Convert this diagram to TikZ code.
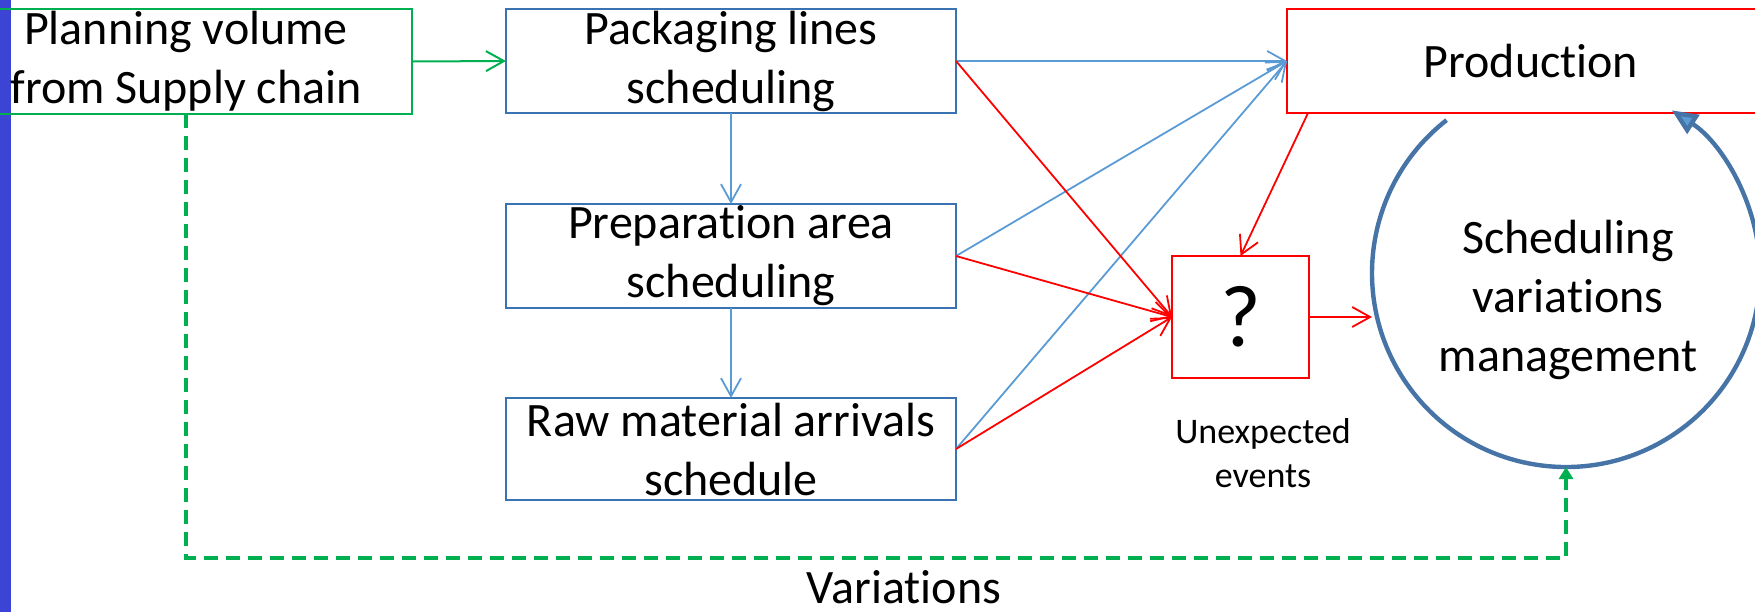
\documentclass[tikz,border=0pt]{standalone}
\usepackage{fontspec}
\setmainfont{Carlito}[Ligatures={NoCommon}]
\usetikzlibrary{arrows.meta}
\definecolor{grn}{HTML}{00B050}
\definecolor{boxblue}{HTML}{3A73B2}
\definecolor{arrblue}{HTML}{5B9BD5}
\definecolor{cblue}{HTML}{4674A6}
\definecolor{redc}{HTML}{FF0000}
\definecolor{barblue}{HTML}{3B44D4}
\begin{document}
\begin{tikzpicture}[x=0.5pt,y=-0.5pt,
  txt/.style={font=\fontsize{24}{29.5}\selectfont, align=center, text=black},
  box/.style={draw, line width=1pt, inner sep=0pt, outer sep=0pt, txt},
  bbox/.style={box, draw=boxblue, minimum width=225pt, minimum height=52pt},
  barb/.style={-{Straight Barb[length=9pt,width=10pt]}},
  barrow/.style={barb, draw=arrblue, line width=0.9pt},
  rarrow/.style={barb, draw=redc, line width=0.9pt},
]
\useasboundingbox (0,0) rectangle (1755,612);
\fill[barblue] (0,0) rectangle (11,612);
\node[box, draw=grn, line width=1.3pt, minimum width=226pt, minimum height=52.5pt] (plan) at (186,61.5) {Planning volume\\from Supply chain};
\node[bbox] (pack) at (731,61) {Packaging lines\\scheduling};
\node[bbox] (prep) at (731,256) {Preparation area\\scheduling};
\node[bbox, minimum height=51pt] (raw) at (731,449) {Raw material arrivals\\schedule};
\node[box, draw=redc, line width=1.1pt, minimum width=244pt, minimum height=52pt] (prod) at (1531,61) {Production};
\node[box, draw=redc, line width=1.1pt, minimum width=68.5pt, minimum height=61pt, font=\fontsize{44}{50}\selectfont] (q) at (1240.5,317) {?};
\node[circle, minimum size=194pt, inner sep=0pt, outer sep=0pt] (circ) at (1566,273) {};
\node[txt, inner sep=0pt] (ctext) at (1568,300) {Scheduling\\variations\\management};
\node[font=\fontsize{18}{22}\selectfont, align=center] (unx) at (1263,453) {Unexpected\\events};
\node[txt, inner sep=0pt] (var) at (904,587) {Variations};
\coordinate (vb) at (0,558);

\draw[grn, line width=1pt, barb] (plan.east) -- (pack.west);
\draw[barrow] (pack) -- (prep);
\draw[barrow] (prep) -- (raw);
\draw[barrow] (pack.east) -- (prod.west);
\draw[barrow] (prep.east) -- (prod.west);
\draw[barrow] (raw.east) -- (prod.west);
\draw[rarrow] (pack.east) -- (q.west);
\draw[rarrow] (prep.east) -- (q.west);
\draw[rarrow] (raw.east) -- (q.west);
\draw[rarrow] ([xshift=10.5pt]prod.south west) -- (q.north);
\draw[rarrow] (q.east) -- (q.east -| circ.west);
\draw[cblue, line width=2.2pt, -{Triangle[length=13pt,width=11pt,fill=arrblue]}] (circ.128) arc[start angle=128, end angle=417, radius=97pt];
\draw[grn, line width=1.6pt, dash pattern=on 7pt off 4pt, -{Triangle[length=6pt,width=7pt]}] (plan.south) -- (plan.south |- vb) -| (circ.south);
\end{tikzpicture}
\end{document}
